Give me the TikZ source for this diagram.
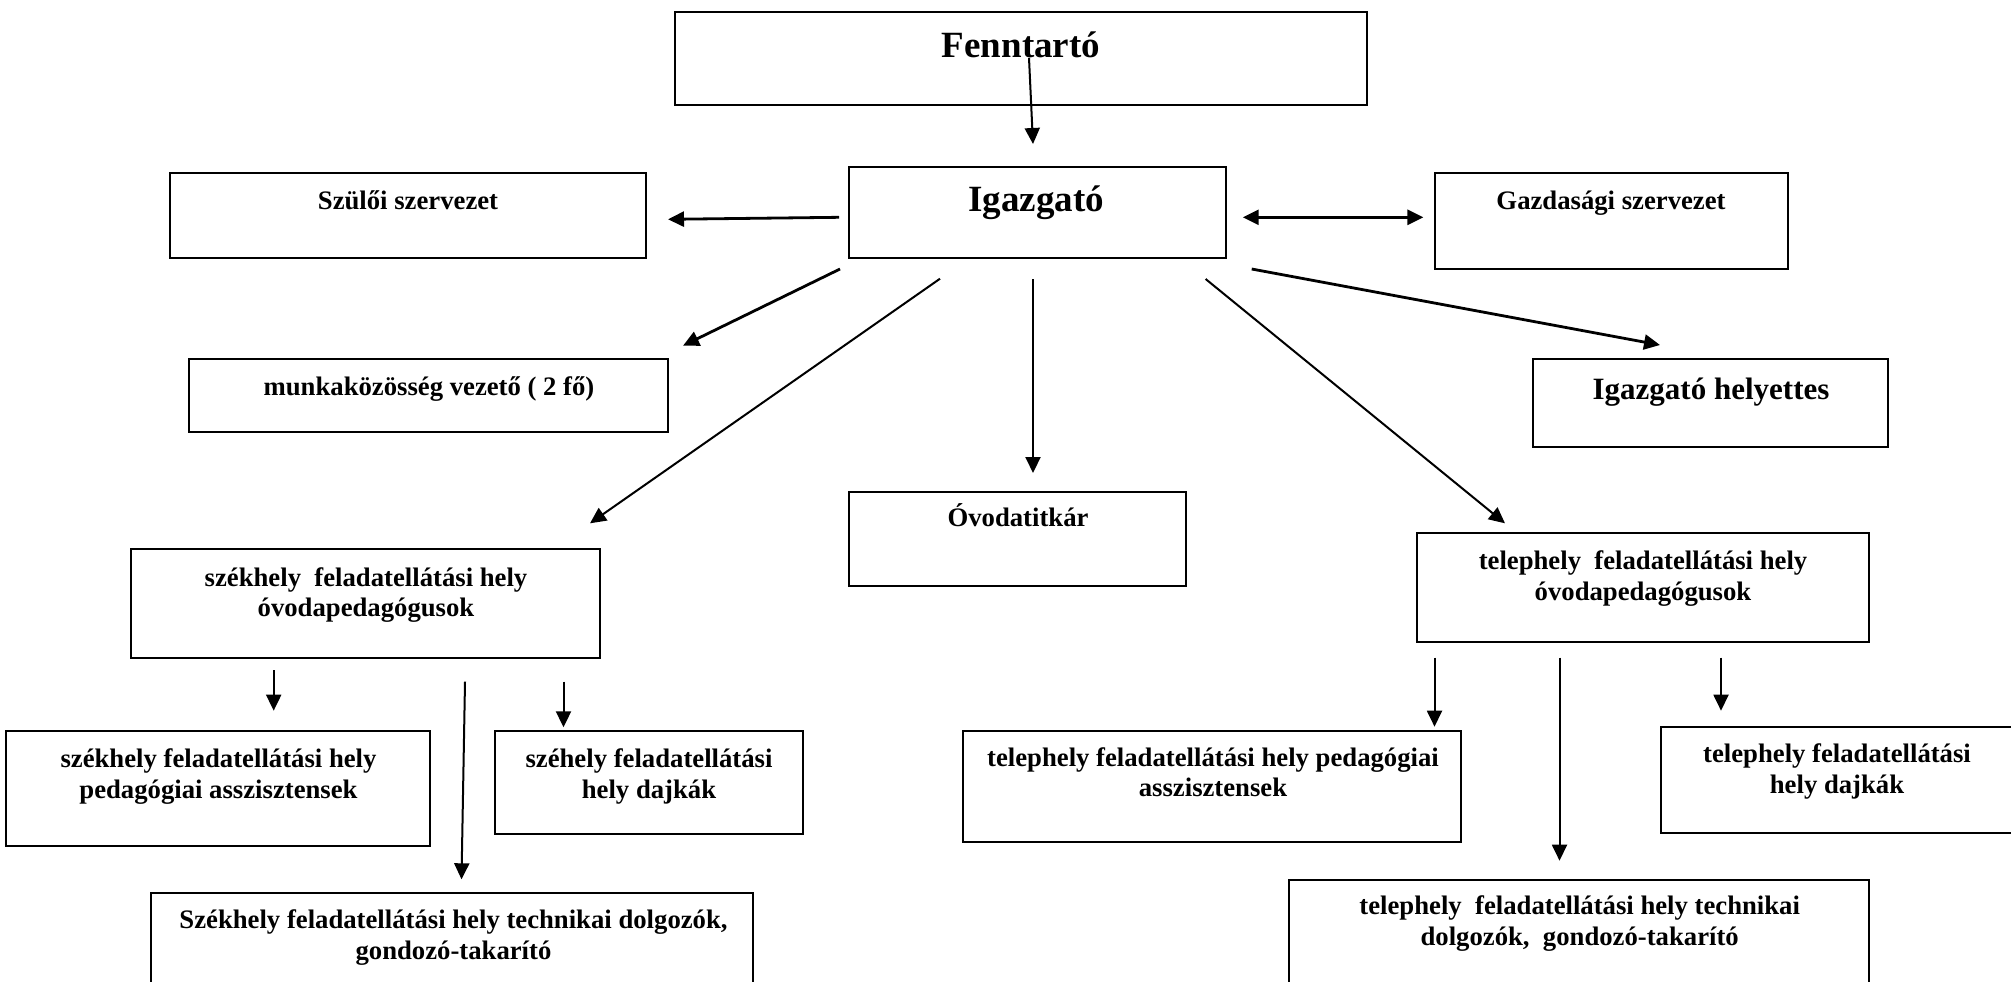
\documentclass[tikz,border=0pt]{standalone}
\usepackage{fontspec}
\setmainfont{Liberation Serif}
\usetikzlibrary{arrows.meta}
\tikzset{
  box/.style={draw, line width=1pt, inner sep=0pt, outer sep=0pt},
  txt/.style={font=\bfseries\fontsize{13.35}{15.2}\selectfont, align=center, inner sep=0pt, anchor=base},
  bigtxt/.style={font=\bfseries\fontsize{18.5}{21}\selectfont, inner sep=0pt, anchor=base},
  midtxt/.style={font=\bfseries\fontsize{15.5}{18}\selectfont, inner sep=0pt, anchor=base},
  arr/.style={line width=1pt, -{Triangle[length=8pt,width=7.5pt]}},
  tarr/.style={line width=1.4pt, -{Triangle[length=8pt,width=7.5pt]}},
  darr/.style={line width=1.4pt, {Triangle[length=8pt,width=7.5pt]}-{Triangle[length=8pt,width=7.5pt]}},
}
\newcommand\mkbox[5]{\node[box, minimum width={(#4-#2)*0.5pt}, minimum height={(#5-#3)*0.5pt}] (#1) at ({(#2+#4)/2},{(#3+#5)/2}) {};}
\begin{document}
\begin{tikzpicture}[x=0.5pt,y=-0.5pt]
\useasboundingbox (0,0) rectangle (2011,981);
\fill[white] (0,0) rectangle (2011,981);
% boxes
\mkbox{fen}{675}{12}{1367}{105}
\mkbox{igz}{849}{167}{1226}{258}
\mkbox{szu}{170}{173}{645.5}{258}
\mkbox{gaz}{1435}{173}{1788}{269}
\mkbox{mun}{189}{359}{668}{432}
\mkbox{hely}{1533}{359}{1888}{447}
\mkbox{ovt}{849}{492}{1186}{586}
\mkbox{szk}{131}{549}{600}{658}
\mkbox{tel}{1417}{533}{1869}{642}
\mkbox{szped}{6}{731}{430}{846}
\mkbox{szdaj}{495}{731}{803}{834}
\mkbox{sztech}{151}{893}{753}{992}
\mkbox{telped}{963}{731}{1461}{842}
\mkbox{teldaj}{1661}{727}{2015}{833}
\mkbox{teltech}{1289}{880}{1869}{992}
% texts (multi-line nodes: base = baseline of last line)
\node[bigtxt] (fen-t) at (1021,57.5) {Fenntartó};
\node[bigtxt] (igz-t) at (1036,211) {Igazgató};
\node[txt] (szu-t) at (408,209.3) {Szülői szervezet};
\node[txt] (gaz-t) at (1611,209.3) {Gazdasági szervezet};
\node[txt] (mun-t) at (429,395) {munkaközösség vezető ( 2 fő)};
\node[midtxt] (hely-t) at (1711,399.3) {Igazgató helyettes};
\node[txt] (ovt-t) at (1018,526) {Óvodatitkár};
\node[txt] (szk-t) at (366,616.7) {székhely\ \ feladatellátási hely\\óvodapedagógusok};
\node[txt] (tel-t) at (1643,600) {telephely\ \ feladatellátási hely\\óvodapedagógusok};
\node[txt] (szped-t) at (218.5,798.3) {székhely feladatellátási hely\\pedagógiai asszisztensek};
\node[txt] (szdaj-t) at (649,798.3) {széhely feladatellátási\\hely dajkák};
\node[txt] (sztech-t) at (453.5,959.3) {Székhely feladatellátási hely technikai dolgozók,\\gondozó-takarító};
\node[txt] (telped-t) at (1213,796.7) {telephely feladatellátási hely pedagógiai\\asszisztensek};
\node[txt] (teldaj-t) at (1837,793.3) {telephely feladatellátási\\hely dajkák};
\node[txt] (teltech-t) at (1579.7,945) {telephely\ \ feladatellátási hely technikai\\dolgozók,\ \ gondozó-takarító};
% connector end points
\coordinate (c1a) at (1029,58);     \coordinate (c1b) at (1033,144);
\coordinate (c2a) at (839,217.3);   \coordinate (c2b) at (668,219.3);
\coordinate (c3a) at (1242.7,217.3);\coordinate (c3b) at (1423.3,217.3);
\coordinate (c4a) at (840,269);     \coordinate (c4b) at (683,345.7);
\coordinate (c5a) at (1251.7,269);  \coordinate (c5b) at (1660,345);
\coordinate (c6a) at (940,278.7);   \coordinate (c6b) at (590,523.3);
\coordinate (c7a) at (1033,279);    \coordinate (c7b) at (1033,473);
\coordinate (c8a) at (1205.6,279);  \coordinate (c8b) at (1505,523.3);
\coordinate (c9a) at (273.7,670);   \coordinate (c9b) at (273.7,710.7);
\coordinate (c10a) at (465,681.7);  \coordinate (c10b) at (461.5,879.3);
\coordinate (c11a) at (563.5,681.7);\coordinate (c11b) at (563.5,727.3);
\coordinate (c12a) at (1434.5,657.7);\coordinate (c12b) at (1434.5,726.7);
\coordinate (c13a) at (1559.5,657.7);\coordinate (c13b) at (1559.5,860.7);
\coordinate (c14a) at (1721,657.7); \coordinate (c14b) at (1721,710.7);
% connectors
\draw[arr] (c1a) -- (c1b);
\draw[tarr] (c2a) -- (c2b);
\draw[darr] (c3a) -- (c3b);
\draw[tarr] (c4a) -- (c4b);
\draw[tarr] (c5a) -- (c5b);
\draw[arr] (c6a) -- (c6b);
\draw[arr] (c7a) -- (c7b);
\draw[arr] (c8a) -- (c8b);
\draw[arr] (c9a) -- (c9b);
\draw[arr] (c10a) -- (c10b);
\draw[arr] (c11a) -- (c11b);
\draw[arr] (c12a) -- (c12b);
\draw[arr] (c13a) -- (c13b);
\draw[arr] (c14a) -- (c14b);
\end{tikzpicture}
\end{document}
